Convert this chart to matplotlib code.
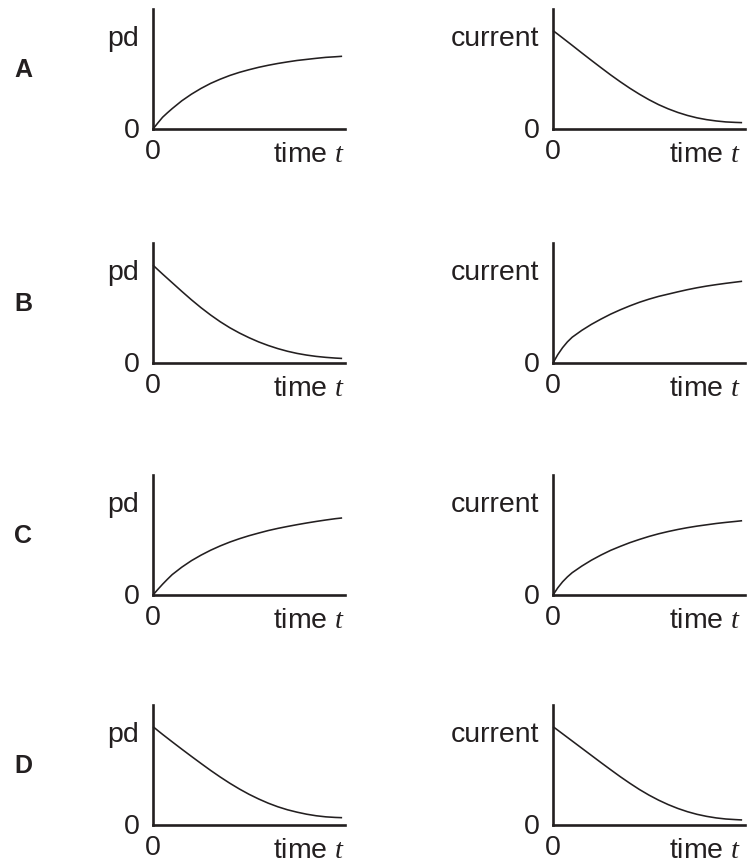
import matplotlib
matplotlib.use("Agg")
import matplotlib.pyplot as plt

plt.rcParams['font.family'] = ['Liberation Sans', 'DejaVu Sans']
plt.rcParams['mathtext.fontset'] = 'custom'
plt.rcParams['mathtext.it'] = 'Liberation Serif:italic'
plt.rcParams['mathtext.rm'] = 'Liberation Sans'

# ---- data (time as fraction of axis length, value as fraction of axis height)
row_labels = ["A", "B", "C", "D"]
left_ylabel = "pd"
right_ylabel = "current"
x_label = "time $t$"
zero_label = "0"

t_vals = [0, 0.025, 0.05, 0.075, 0.1, 0.15, 0.2, 0.25, 0.3, 0.35, 0.4, 0.45, 0.5,
          0.55, 0.6, 0.65, 0.7, 0.75, 0.8, 0.85, 0.9, 0.95, 0.985]

pd_A = [0, 0.05, 0.098, 0.135, 0.17, 0.235, 0.29, 0.338, 0.38, 0.415, 0.446, 0.472, 0.494,
        0.514, 0.531, 0.546, 0.559, 0.571, 0.58, 0.589, 0.597, 0.602, 0.606]
current_A = [0.82, 0.79, 0.759, 0.728, 0.697, 0.634, 0.572, 0.511, 0.451, 0.394, 0.34, 0.29, 0.244,
             0.203, 0.168, 0.138, 0.113, 0.093, 0.078, 0.067, 0.059, 0.055, 0.053]
pd_B = [0.815, 0.778, 0.741, 0.705, 0.669, 0.597, 0.527, 0.461, 0.40, 0.344, 0.294, 0.25, 0.211,
        0.176, 0.146, 0.12, 0.098, 0.08, 0.066, 0.055, 0.047, 0.041, 0.038]
current_B = [0, 0.07, 0.128, 0.176, 0.215, 0.272, 0.322, 0.366, 0.407, 0.443, 0.476, 0.506, 0.532,
             0.555, 0.574, 0.593, 0.611, 0.627, 0.641, 0.653, 0.664, 0.674, 0.681]
pd_C = [0, 0.046, 0.09, 0.131, 0.17, 0.232, 0.286, 0.332, 0.373, 0.409, 0.441, 0.469, 0.494,
        0.516, 0.537, 0.555, 0.571, 0.586, 0.60, 0.613, 0.625, 0.636, 0.642]
current_C = [0, 0.06, 0.11, 0.151, 0.186, 0.241, 0.29, 0.333, 0.372, 0.405, 0.436, 0.463, 0.488,
             0.51, 0.529, 0.546, 0.561, 0.574, 0.585, 0.596, 0.605, 0.613, 0.619]
pd_D = [0.82, 0.787, 0.755, 0.724, 0.693, 0.632, 0.572, 0.513, 0.455, 0.40, 0.348, 0.30, 0.256,
        0.217, 0.182, 0.152, 0.127, 0.107, 0.09, 0.077, 0.068, 0.063, 0.061]
current_D = [0.82, 0.79, 0.76, 0.73, 0.70, 0.64, 0.58, 0.52, 0.461, 0.403, 0.348, 0.296, 0.249,
             0.207, 0.17, 0.138, 0.111, 0.089, 0.072, 0.059, 0.05, 0.045, 0.042]

left_series = [pd_A, pd_B, pd_C, pd_D]
right_series = [current_A, current_B, current_C, current_D]

# ---- layout (pixels)
W, H = 747, 863
fig = plt.figure(figsize=(W / 100, H / 100), dpi=100)
fig.patch.set_facecolor('white')

col_x0 = [153, 553]
axis_w = 192
axis_h = 120
row_base = [129, 363, 595, 825]
time_right = [345, 741]

FS = 20.5
INK = '#231f20'
LW_AX = 1.9
LW_CURVE = 1.15


def fx(x):
    return x / W


def fy(y):
    return 1 - y / H


for r in range(4):
    base = row_base[r]
    fig.text(fx(23), fy(base - 59), row_labels[r], fontsize=18, fontweight='bold',
             ha='center', va='center', color=INK)
    for c in range(2):
        x0 = col_x0[c]
        ax = fig.add_axes([fx(x0), fy(base), axis_w / W, axis_h / H])
        ax.set_xlim(0, 1)
        ax.set_ylim(0, 1)
        ax.patch.set_alpha(0)
        for s in ['top', 'right']:
            ax.spines[s].set_visible(False)
        for s in ['left', 'bottom']:
            ax.spines[s].set_linewidth(LW_AX)
            ax.spines[s].set_capstyle('projecting')
            ax.spines[s].set_color(INK)
        ax.set_xticks([])
        ax.set_yticks([])
        ys = left_series[r] if c == 0 else right_series[r]
        ax.plot(t_vals, ys, color=INK, lw=LW_CURVE, clip_on=False,
                solid_capstyle='butt', solid_joinstyle='round')
        lab = left_ylabel if c == 0 else right_ylabel
        fig.text(fx(x0 - 14), fy(base - 90), lab, fontsize=FS, ha='right', va='center',
                 color=INK)
        fig.text(fx(x0 - 13), fy(base + 2), zero_label, fontsize=FS, ha='right', va='center',
                 color=INK)
        fig.text(fx(x0), fy(base + 23), zero_label, fontsize=FS, ha='center', va='center',
                 color=INK)
        fig.text(fx(time_right[c]), fy(base + 26), x_label, fontsize=FS, ha='right',
                 va='center', color=INK)

fig.savefig("out.png", dpi=100, facecolor='white')
